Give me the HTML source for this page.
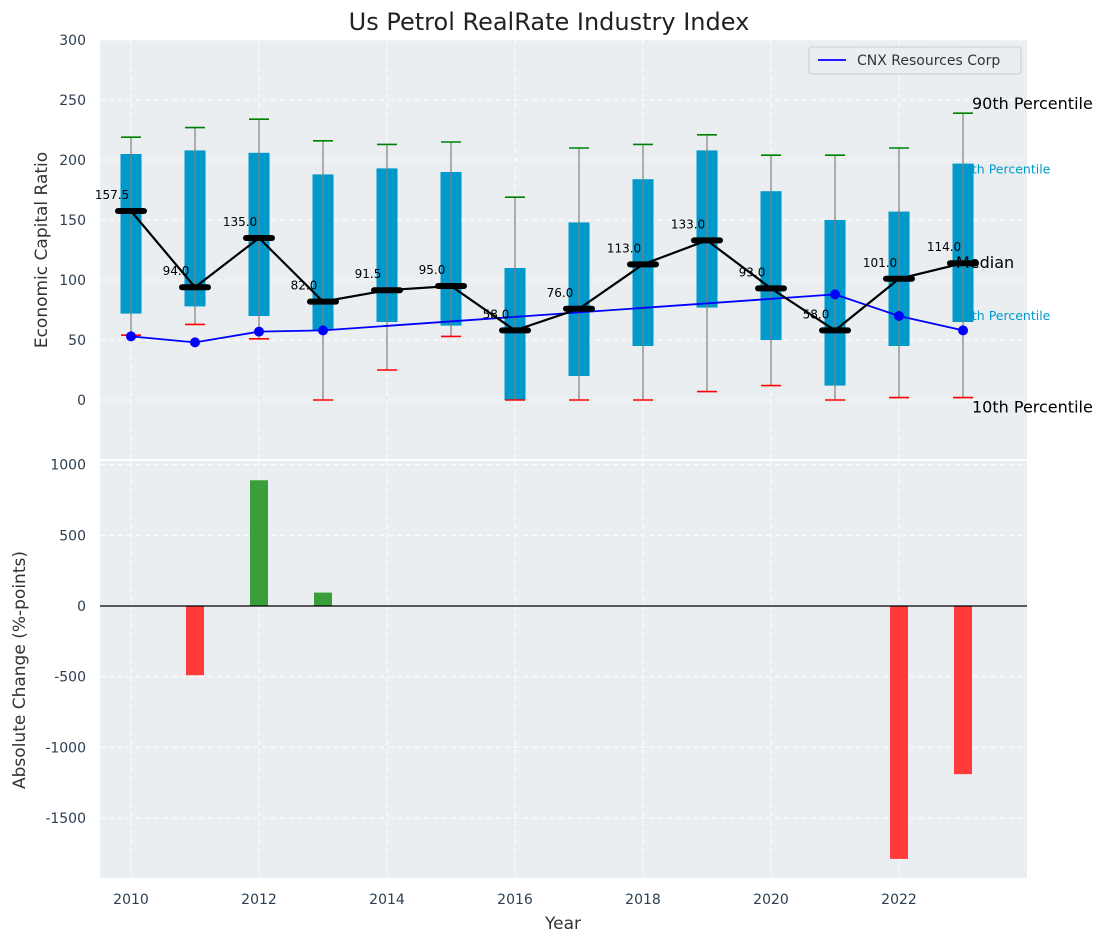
<!DOCTYPE html>
<html><head><meta charset="utf-8"><style>
body{margin:0;background:#fff;}
text{font-family:"DejaVu Sans","Liberation Sans",sans-serif;}
</style></head><body>
<svg id="chart" width="1107" height="942" xmlns="http://www.w3.org/2000/svg">
<text x="549" y="30" text-anchor="middle" font-size="24" fill="#222">Us Petrol RealRate Industry Index</text>
<rect x="100" y="40" width="927" height="419" fill="#eaeef0"/>
<rect x="100" y="461" width="927" height="417" fill="#eaeef0"/>
<g id="topg"></g><g id="botg"></g>
<text transform="translate(47,250) rotate(-90)" text-anchor="middle" font-size="17" fill="#333">Economic Capital Ratio</text>
<text transform="translate(25,670) rotate(-90)" text-anchor="middle" font-size="17" fill="#333">Absolute Change (%-points)</text>
<text x="563" y="929" text-anchor="middle" font-size="17" fill="#333">Year</text>
<g>
<rect x="809" y="47" width="212" height="27" rx="3" fill="#eaeef0" stroke="#ccc"/>
<line x1="818" y1="60" x2="846" y2="60" stroke="#0000ff" stroke-width="1.8"/>
<text x="857" y="65" font-size="14" fill="#333">CNX Resources Corp</text>
</g>
</svg>
<script>
const years=[2010,2011,2012,2013,2014,2015,2016,2017,2018,2019,2020,2021,2022,2023];
const q1=[72,78,70,58,65,62,0,20,45,77,50,12,45,65];
const q3=[205,208,206,188,193,190,110,148,184,208,174,150,157,197];
const p10=[54,63,51,0,25,53,0,0,0,7,12,0,2,2];
const p90=[219,227,234,216,213,215,169,210,213,221,204,204,210,239];
const medians=[157.5,94,135,82,91.5,95,58,76,113,133,93,58,101,114];
const cnx=[53,48,57,58,null,null,null,null,null,null,null,88,70,58];
const changeYears=[2011,2012,2013,2022,2023];
const changes=[-490,890,95,-1790,-1190];
const yTicksTop=[0,50,100,150,200,250,300];
const yTicksBot=[-1500,-1000,-500,0,500,1000];
const xTicks=[2010,2012,2014,2016,2018,2020,2022];
const NS="http://www.w3.org/2000/svg";
const X=v=>131+(v-2010)*64;
const YT=v=>400-v*1.2;
const YB=v=>606-v*0.1413;
const gTop=document.getElementById('topg'),gBot=document.getElementById('botg');
function mk(p,t,a){const e=document.createElementNS(NS,t);for(const k in a)e.setAttribute(k,a[k]);p.appendChild(e);return e;}
yTicksTop.forEach(v=>{
 const g=mk(gTop,'line',{x1:100,x2:1027,y1:YT(v),y2:YT(v),stroke:'#fff','stroke-dasharray':'5,4'});
 
 
 const t=mk(gTop,'text',{x:86,y:YT(v)+5,'text-anchor':'end','font-size':14,fill:'#2c3e50'});t.textContent=v;
 
 
});
yTicksBot.forEach(v=>{
 const g=mk(gBot,'line',{x1:100,x2:1027,y1:YB(v),y2:YB(v),stroke:'#fff','stroke-dasharray':'5,4'});
 
 
 const t=mk(gBot,'text',{x:86,y:YB(v)+5,'text-anchor':'end','font-size':14,fill:'#2c3e50'});t.textContent=v;
 
 
});
xTicks.forEach(v=>{
 [[40,459],[461,878]].forEach(r=>{const g=mk(gTop,'line',{x1:X(v),x2:X(v),y1:r[0],y2:r[1],stroke:'#fff','stroke-dasharray':'5,4'});
 
 });
 const t=mk(gBot,'text',{x:X(v),y:904,'text-anchor':'middle','font-size':14,fill:'#2c3e50'});t.textContent=v;
 
 
});
const lx=X(2023);
const plabels=[['90th Percentile',p90[13],'#000',16,lx+9,-4],['75th Percentile',q3[13],'#0099cc',12.5,lx-7,10],['25th Percentile',q1[13],'#0099cc',12.5,lx-7,-2],['10th Percentile',p10[13],'#000',16,lx+9,15]];
plabels.forEach(d=>{
 const t=mk(gTop,'text',{x:d[4],y:YT(d[1])+d[5],'font-size':d[3],fill:d[2]});
 t.textContent=d[0];
 
 
});
years.forEach((y,i)=>{
 const x=X(y);
 const b=mk(gTop,'rect',{x:x-10.5,y:YT(q3[i]),width:21,height:YT(q1[i])-YT(q3[i]),fill:'#0099cc'});
 
 
 const w=mk(gTop,'line',{x1:x,x2:x,y1:YT(p90[i]),y2:YT(p10[i]),stroke:'#808080','stroke-width':1.2});
 
 
 const c1=mk(gTop,'line',{x1:x-10,x2:x+10,y1:YT(p90[i]),y2:YT(p90[i]),stroke:'#008000','stroke-width':1.6});
 
 
 const c2=mk(gTop,'line',{x1:x-10,x2:x+10,y1:YT(p10[i]),y2:YT(p10[i]),stroke:'#ff0000','stroke-width':1.6});
 
 
});
const pts=[];years.forEach((y,i)=>{if(cnx[i]!==null)pts.push([X(y),YT(cnx[i])]);});
const cl=mk(gTop,'polyline',{points:pts.map(p=>p.join(',')).join(' '),fill:'none',stroke:'#0000ff','stroke-width':1.8});


pts.forEach(p=>{const c=mk(gTop,'circle',{cx:p[0],cy:p[1],r:5,fill:'#0000ff'});
 
 });
const ml=mk(gTop,'polyline',{points:years.map((y,i)=>X(y)+','+YT(medians[i])).join(' '),fill:'none',stroke:'#000','stroke-width':2.2});


years.forEach((y,i)=>{
 const x=X(y),yy=YT(medians[i]);
 const m=mk(gTop,'line',{x1:x-13,x2:x+13,y1:yy,y2:yy,stroke:'#000','stroke-width':6,'stroke-linecap':'round'});
 
 
 const t=mk(gTop,'text',{x:x-19,y:yy-12,'text-anchor':'middle','font-size':12,fill:'#000'});
 t.textContent=medians[i].toFixed(1);
 
 
});
const mt=mk(gTop,'text',{x:lx-7,y:YT(medians[13])+5,'font-size':16,fill:'#000'});
mt.textContent='Median';


changeYears.forEach((y,i)=>{
 const v=changes[i],x=X(y);
 const r=mk(gBot,'rect',{x:x-9,y:Math.min(YB(v),YB(0)),width:18,height:Math.abs(YB(v)-YB(0)),fill:v>=0?'#3a9e3a':'#ff3b3b'});
 
 
});
const z=mk(gBot,'line',{x1:100,x2:1027,y1:YB(0),y2:YB(0),stroke:'#000','stroke-width':1.2});


</script>
</body></html>
